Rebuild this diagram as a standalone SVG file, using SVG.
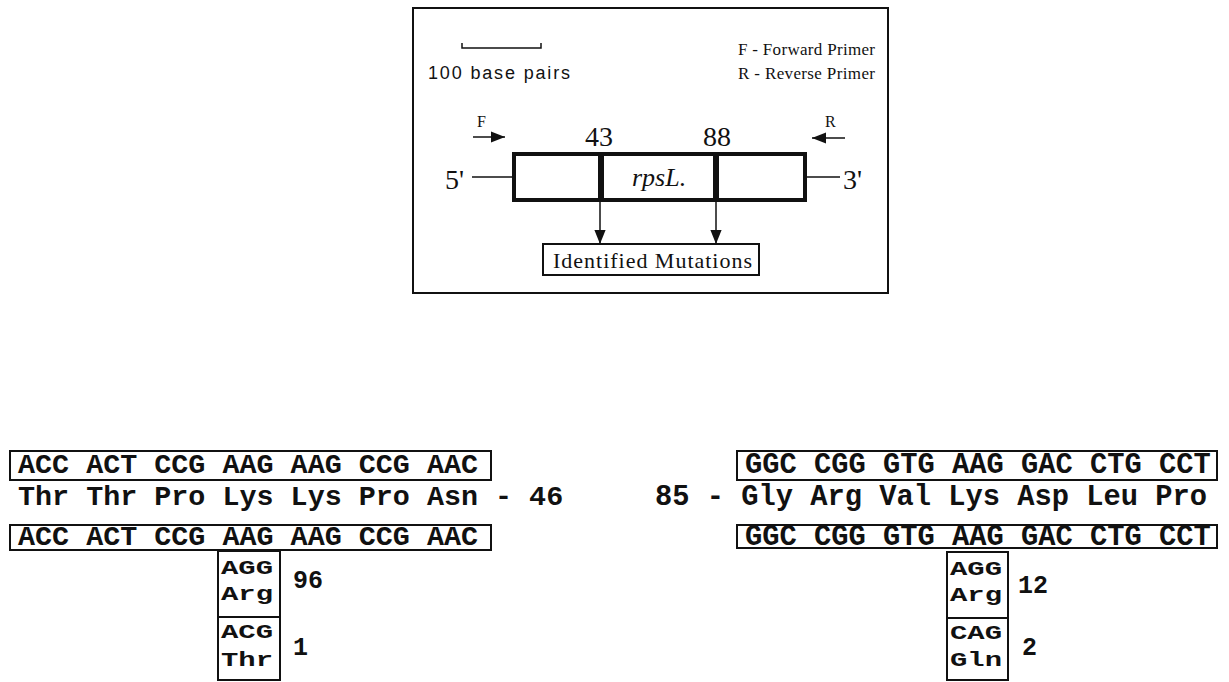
<svg xmlns="http://www.w3.org/2000/svg" width="1229" height="682" viewBox="0 0 1229 682">
<style>
.serif{font-family:"Liberation Serif","Times New Roman",serif;fill:#111}
.sans{font-family:"Liberation Sans",Arial,sans-serif;fill:#111}
.mono{font-family:"Liberation Mono","Courier New",monospace;font-weight:bold;fill:#111}
.mut{font-family:"Liberation Mono","Courier New",monospace;font-weight:bold;fill:#111;font-size:21px}
.box{fill:none;stroke:#111;stroke-width:2}
.ln{stroke:#111;stroke-width:1.5;fill:none}
</style>
<defs>
<marker id="ahs" viewBox="0 0 10 10" refX="10" refY="5" markerWidth="14" markerHeight="14" markerUnits="userSpaceOnUse" orient="auto">
<path d="M0,1 L10,5 L0,9 Z" fill="#111"/>
</marker>
</defs>
<rect fill="#fff" x="0" y="0" width="1229" height="682"/>

<g id="panel">
<rect class="box" x="413" y="8" width="475" height="285"/>
</g>
<g id="scale">
<path class="ln" d="M462,43 V48 H541 V43"/>
<text class="sans" x="428" y="79" font-size="18" textLength="142">100 base pairs</text>
</g>
<g id="legend">
<text class="serif" x="738" y="55" font-size="17" textLength="137">F - Forward Primer</text>
<text class="serif" x="738" y="79" font-size="17" textLength="137">R - Reverse Primer</text>
</g>
<g id="primerF">
<text class="serif" x="477" y="127" font-size="16">F</text>
</g>
<g id="primerR">
<text class="serif" x="825" y="127" font-size="16">R</text>
</g>
<g id="pos43"><text class="serif" x="585" y="146" font-size="28">43</text></g>
<g id="pos88"><text class="serif" x="703" y="146" font-size="28">88</text></g>
<g id="end5"><text class="serif" x="445" y="189" font-size="28">5'</text></g>
<g id="end3"><text class="serif" x="843" y="189" font-size="28">3'</text></g>
<g id="gene">
<rect x="514" y="154" width="291" height="46" fill="none" stroke="#111" stroke-width="4"/>
<line x1="601" y1="154" x2="601" y2="200" stroke="#111" stroke-width="6"/>
<line x1="716" y1="154" x2="716" y2="200" stroke="#111" stroke-width="6"/>
<text class="serif" x="632" y="186" font-size="26" font-style="italic">rpsL.</text>
</g>
<g id="mutations">
<rect class="box" x="543" y="244" width="216" height="31"/>
<text class="serif" x="553" y="268" font-size="22" textLength="199">Identified Mutations</text>
</g>
<g id="connectors">
<line class="ln" x1="472" y1="177" x2="512" y2="177"/>
<line class="ln" x1="807" y1="177" x2="840" y2="177"/>
<line class="ln" x1="473" y1="137" x2="505" y2="137" stroke-width="2" marker-end="url(#ahs)"/>
<line class="ln" x1="845" y1="138" x2="812" y2="138" stroke-width="2" marker-end="url(#ahs)"/>
<line class="ln" x1="600" y1="202" x2="600" y2="244" marker-end="url(#ahs)"/>
<line class="ln" x1="716" y1="202" x2="716" y2="244" marker-end="url(#ahs)"/>
</g>

<g id="left-wt">
<rect class="box" x="10" y="451" width="481" height="29"/>
<text class="mono" x="18" y="473" font-size="28.4">ACC ACT CCG AAG AAG CCG AAC</text>
</g>
<g id="left-aa">
<text class="mono" x="18" y="505" font-size="28.4">Thr Thr Pro Lys Lys Pro Asn - 46</text>
</g>
<g id="left-mut">
<rect class="box" x="10" y="525" width="481" height="25"/>
<text class="mono" x="18" y="545" font-size="28.4">ACC ACT CCG AAG AAG CCG AAC</text>
</g>
<g id="left-arg">
<rect class="box" x="218" y="551" width="62" height="66"/>
<text class="mut" x="221" y="574" textLength="52" lengthAdjust="spacingAndGlyphs">AGG</text>
<text class="mut" x="221" y="600" textLength="52" lengthAdjust="spacingAndGlyphs">Arg</text>
<text class="mono" x="293" y="588" font-size="25">96</text>
</g>
<g id="left-thr">
<rect class="box" x="218" y="617" width="62" height="63"/>
<text class="mut" x="221" y="638" textLength="52" lengthAdjust="spacingAndGlyphs">ACG</text>
<text class="mut" x="221" y="666" textLength="52" lengthAdjust="spacingAndGlyphs">Thr</text>
<text class="mono" x="293" y="655" font-size="25">1</text>
</g>

<g id="right-wt">
<rect class="box" x="737" y="451" width="480" height="29"/>
<text class="mono" x="745" y="473" font-size="28.75">GGC CGG GTG AAG GAC CTG CCT</text>
</g>
<g id="right-aa">
<text class="mono" x="655" y="505" font-size="28.75">85 - Gly Arg Val Lys Asp Leu Pro</text>
</g>
<g id="right-mut">
<rect class="box" x="737" y="525" width="480" height="23"/>
<text class="mono" x="745" y="545" font-size="28.75">GGC CGG GTG AAG GAC CTG CCT</text>
</g>
<g id="right-arg">
<rect class="box" x="947" y="552" width="61" height="66"/>
<text class="mut" x="950" y="575" textLength="52" lengthAdjust="spacingAndGlyphs">AGG</text>
<text class="mut" x="950" y="601" textLength="52" lengthAdjust="spacingAndGlyphs">Arg</text>
<text class="mono" x="1018" y="593" font-size="25">12</text>
</g>
<g id="right-gln">
<rect class="box" x="947" y="618" width="61" height="62"/>
<text class="mut" x="950" y="639" textLength="52" lengthAdjust="spacingAndGlyphs">CAG</text>
<text class="mut" x="950" y="666" textLength="52" lengthAdjust="spacingAndGlyphs">Gln</text>
<text class="mono" x="1022" y="655" font-size="25">2</text>
</g>
</svg>
